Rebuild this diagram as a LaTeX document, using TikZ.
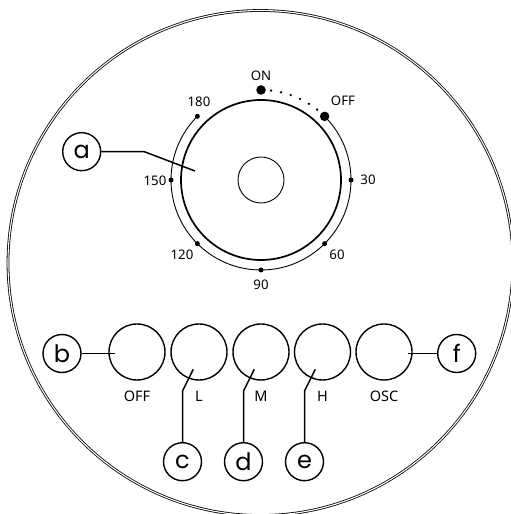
\documentclass[tikz,border=0pt]{standalone}
\usepackage{fontspec}
\setmainfont{Noto Sans}
\newfontfamily\callfont{Poppins}
\usetikzlibrary{calc}
\begin{document}
\begin{tikzpicture}[x=1pt,y=1pt,
  lbl/.style={font=\fontsize{13.2}{14}\selectfont, inner sep=0pt},
  blbl/.style={font=\fontsize{14.5}{15}\selectfont, inner sep=0pt},
  callout/.style={circle, draw, line width=1.4pt, minimum size=38pt, inner sep=0pt, font=\callfont\fontsize{24}{24}\selectfont},
  button/.style={circle, draw, line width=1.4pt, minimum size=56pt, inner sep=0pt},
  leader/.style={line width=1.5pt},
  sdot/.style={circle, fill, inner sep=0pt, minimum size=5pt},
  bdot/.style={circle, fill, inner sep=0pt, minimum size=9.5pt}]
\useasboundingbox (0,0) rectangle (511,514);
\clip (0,0) rectangle (511,514);
% outer housing
\draw[double, line width=0.8pt, double distance=1.1pt] (260.5,251) circle[radius=252.5];
% dial
\coordinate (dc) at (261,334);
\node[circle, draw, line width=1.7pt, minimum size=160pt, inner sep=0pt] (dial) at (dc) {};
\node[circle, draw, line width=0.9pt, minimum size=46pt, inner sep=0pt] (knob) at (dc) {};
\draw[line width=0.9pt] ($(dc)+(45:90)$) arc[start angle=45, end angle=-225, radius=90];
\draw[line width=2.6pt, line cap=round, dash pattern=on 0pt off 10.1pt] ($(dc)+(90:90)$) arc[start angle=90, end angle=45, radius=90];
\node[bdot] (don) at ($(dc)+(90:90)$) {};
\node[bdot] (doff) at ($(dc)+(45:90)$) {};
\node[sdot] (d180) at ($(dc)+(135:90)$) {};
\node[sdot] (d150) at ($(dc)+(180:90)$) {};
\node[sdot] (d120) at ($(dc)+(225:90)$) {};
\node[sdot] (d90) at ($(dc)+(270:90)$) {};
\node[sdot] (d60) at ($(dc)+(315:90)$) {};
\node[sdot] (d30) at ($(dc)+(0:90)$) {};
\node[lbl] (ton) at (261,438) {ON};
\node[lbl] (toff) at (343,413) {OFF};
\node[lbl] (t180) at (199,412) {180};
\node[lbl] (t30) at (368,334) {30};
\node[lbl] (t150) at (155,333) {150};
\node[lbl] (t120) at (182,259) {120};
\node[lbl] (t60) at (337,259) {60};
\node[lbl] (t90) at (261,229) {90};
% callout a
\node[callout] (a) at (81.7,362.3) {a};
\coordinate (abend) at (144.3,362.3);
\coordinate (aend) at (195,343);
\draw[leader] (a.east) -- (abend) -- (aend);
% buttons
\node[button] (boff) at (137,162) {};
\node[button] (bl) at (199,162) {};
\node[button] (bm) at (261,162) {};
\node[button] (bh) at (322.5,162) {};
\node[button] (bosc) at (384,162) {};
\node[blbl] (loff) at (137,118) {OFF};
\node[blbl] (ll) at (199,118) {L};
\node[blbl] (lm) at (261,118) {M};
\node[blbl] (lh) at (322.5,118) {H};
\node[blbl] (losc) at (384,118) {OSC};
% callouts b, f
\node[callout] (b) at (62,160.5) {b};
\node[callout] (f) at (456.7,160.5) {f};
\coordinate (bend) at (115,160.5);
\coordinate (fend) at (408.3,160.5);
\draw[leader] (b.east) -- (bend);
\draw[leader] (f.west) -- (fend);
% callouts c, d, e
\node[callout] (c) at (182.5,52.3) {c};
\node[callout] (d) at (243.5,52.3) {d};
\node[callout] (e) at (304.5,52.3) {e};
\coordinate (cb) at (182.5,123);
\coordinate (ct) at (193.3,144.7);
\coordinate (db) at (243.5,123);
\coordinate (dt) at (254.3,144.7);
\coordinate (eb) at (304.5,123);
\coordinate (et) at (315.3,144.7);
\draw[leader] (c.north) -- (cb) -- (ct);
\draw[leader] (d.north) -- (db) -- (dt);
\draw[leader] (e.north) -- (eb) -- (et);
\end{tikzpicture}
\end{document}
